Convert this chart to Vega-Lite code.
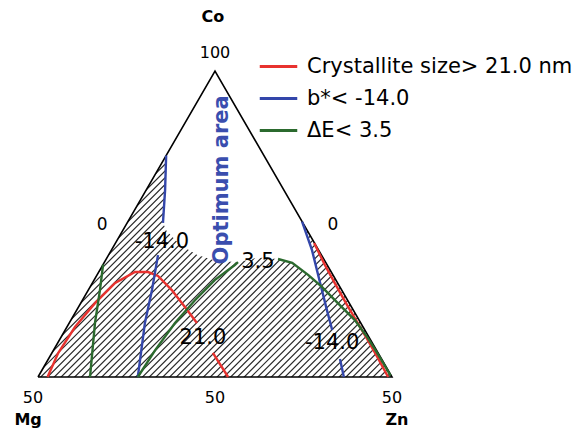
{
  "$schema": "https://vega.github.io/schema/vega-lite/v6.json",
  "width": 354,
  "height": 306,
  "autosize": "none",
  "padding": {"left": 38, "top": 71, "right": 184, "bottom": 58},
  "background": "white",
  "config": {
    "view": {"stroke": null},
    "font": "DejaVu Sans",
    "legend": {
      "orient": "none",
      "legendX": 224,
      "legendY": -21,
      "padding": 0,
      "title": null,
      "labelFont": "DejaVu Sans",
      "labelFontSize": 21,
      "labelColor": "black",
      "labelLimit": 400,
      "labelOffset": 12,
      "symbolType": "M-1.25,0H1.25",
      "symbolSize": 900,
      "symbolStrokeWidth": 3,
      "rowPadding": 5
    }
  },
  "datasets": {
    "outline": [
      {"i": 0, "x": 0, "y": 0},
      {"i": 1, "x": 50, "y": 86.6},
      {"i": 2, "x": 100, "y": 0},
      {"i": 3, "x": 0, "y": 0}
    ],
    "optimum": [
      {"x": 35.3, "top": 43.6, "bot": 43.6},
      {"x": 35.9, "top": 52.9, "bot": 42.3},
      {"x": 36.2, "top": 62.7, "bot": 41.5},
      {"x": 40, "top": 69.3, "bot": 37.5},
      {"x": 45, "top": 77.9, "bot": 34.5},
      {"x": 50, "top": 86.6, "bot": 33.0},
      {"x": 56.5, "top": 75.3, "bot": 32.5},
      {"x": 62, "top": 65.8, "bot": 33.8},
      {"x": 67.8, "top": 55.8, "bot": 33.4},
      {"x": 71.8, "top": 48.8, "bot": 32.3},
      {"x": 74.6, "top": 44.0, "bot": 30.3},
      {"x": 76.3, "top": 39.1, "bot": 28.9},
      {"x": 77.4, "top": 35.9, "bot": 28.1},
      {"x": 79.8, "top": 26.2, "bot": 26.2}
    ],
    "contours": [
      {"s": "Crystallite size> 21.0 nm", "g": "r1", "i": 0, "x": 2.7, "y": 0},
      {"s": "Crystallite size> 21.0 nm", "g": "r1", "i": 1, "x": 5.7, "y": 6.8},
      {"s": "Crystallite size> 21.0 nm", "g": "r1", "i": 2, "x": 10.5, "y": 14.2},
      {"s": "Crystallite size> 21.0 nm", "g": "r1", "i": 3, "x": 16.1, "y": 20.9},
      {"s": "Crystallite size> 21.0 nm", "g": "r1", "i": 4, "x": 21.8, "y": 26.6},
      {"s": "Crystallite size> 21.0 nm", "g": "r1", "i": 5, "x": 27.4, "y": 29.7},
      {"s": "Crystallite size> 21.0 nm", "g": "r1", "i": 6, "x": 31.1, "y": 29.7},
      {"s": "Crystallite size> 21.0 nm", "g": "r1", "i": 7, "x": 33.9, "y": 28.6},
      {"s": "Crystallite size> 21.0 nm", "g": "r1", "i": 8, "x": 37.8, "y": 24.6},
      {"s": "Crystallite size> 21.0 nm", "g": "r1", "i": 9, "x": 41.5, "y": 19.8},
      {"s": "Crystallite size> 21.0 nm", "g": "r1", "i": 10, "x": 44.9, "y": 15.3},
      {"s": "Crystallite size> 21.0 nm", "g": "r2", "i": 0, "x": 49.4, "y": 6.8},
      {"s": "Crystallite size> 21.0 nm", "g": "r2", "i": 1, "x": 53.7, "y": 0},
      {"s": "Crystallite size> 21.0 nm", "g": "r3", "i": 0, "x": 78.0, "y": 37.9},
      {"s": "Crystallite size> 21.0 nm", "g": "r3", "i": 1, "x": 81, "y": 31.8},
      {"s": "Crystallite size> 21.0 nm", "g": "r3", "i": 2, "x": 84, "y": 26.3},
      {"s": "Crystallite size> 21.0 nm", "g": "r3", "i": 3, "x": 87, "y": 20.9},
      {"s": "Crystallite size> 21.0 nm", "g": "r3", "i": 4, "x": 90, "y": 15.8},
      {"s": "Crystallite size> 21.0 nm", "g": "r3", "i": 5, "x": 93, "y": 10.7},
      {"s": "Crystallite size> 21.0 nm", "g": "r3", "i": 6, "x": 96, "y": 5.4},
      {"s": "Crystallite size> 21.0 nm", "g": "r3", "i": 7, "x": 98.9, "y": 0},
      {"s": "b*< -14.0", "g": "b1", "i": 0, "x": 36.2, "y": 62.7},
      {"s": "b*< -14.0", "g": "b1", "i": 1, "x": 35.9, "y": 52.9},
      {"s": "b*< -14.0", "g": "b1", "i": 2, "x": 35.3, "y": 43.6},
      {"s": "b*< -14.0", "g": "b2", "i": 0, "x": 33.9, "y": 34.5},
      {"s": "b*< -14.0", "g": "b2", "i": 1, "x": 32.2, "y": 24.6},
      {"s": "b*< -14.0", "g": "b2", "i": 2, "x": 30.2, "y": 15.3},
      {"s": "b*< -14.0", "g": "b2", "i": 3, "x": 28.2, "y": 0},
      {"s": "b*< -14.0", "g": "b3", "i": 0, "x": 74.6, "y": 44.0},
      {"s": "b*< -14.0", "g": "b3", "i": 1, "x": 77.4, "y": 35.9},
      {"s": "b*< -14.0", "g": "b3", "i": 2, "x": 79.7, "y": 26.6},
      {"s": "b*< -14.0", "g": "b3", "i": 3, "x": 81.6, "y": 19.0},
      {"s": "b*< -14.0", "g": "b3", "i": 4, "x": 83.1, "y": 13.3},
      {"s": "b*< -14.0", "g": "b4", "i": 0, "x": 85.3, "y": 5.1},
      {"s": "b*< -14.0", "g": "b4", "i": 1, "x": 86.4, "y": 0},
      {"s": "ΔE< 3.5", "g": "e1", "i": 0, "x": 14.7, "y": 0},
      {"s": "ΔE< 3.5", "g": "e1", "i": 1, "x": 16.1, "y": 15.3},
      {"s": "ΔE< 3.5", "g": "e1", "i": 2, "x": 17.5, "y": 24.6},
      {"s": "ΔE< 3.5", "g": "e1", "i": 3, "x": 18.4, "y": 31.9},
      {"s": "ΔE< 3.5", "g": "e2", "i": 0, "x": 28.2, "y": 0},
      {"s": "ΔE< 3.5", "g": "e2", "i": 1, "x": 33.1, "y": 7.6},
      {"s": "ΔE< 3.5", "g": "e2", "i": 2, "x": 38.7, "y": 15.3},
      {"s": "ΔE< 3.5", "g": "e2", "i": 3, "x": 44.4, "y": 21.8},
      {"s": "ΔE< 3.5", "g": "e2", "i": 4, "x": 50.0, "y": 27.5},
      {"s": "ΔE< 3.5", "g": "e2", "i": 5, "x": 55.6, "y": 31.7},
      {"s": "ΔE< 3.5", "g": "e2", "i": 6, "x": 56.5, "y": 32.5},
      {"s": "ΔE< 3.5", "g": "e3", "i": 0, "x": 67.8, "y": 33.4},
      {"s": "ΔE< 3.5", "g": "e3", "i": 1, "x": 71.8, "y": 32.3},
      {"s": "ΔE< 3.5", "g": "e3", "i": 2, "x": 76.3, "y": 28.9},
      {"s": "ΔE< 3.5", "g": "e3", "i": 3, "x": 80.2, "y": 25.5},
      {"s": "ΔE< 3.5", "g": "e3", "i": 4, "x": 84.7, "y": 20.9},
      {"s": "ΔE< 3.5", "g": "e3", "i": 5, "x": 89.5, "y": 16.1},
      {"s": "ΔE< 3.5", "g": "e3", "i": 6, "x": 93.2, "y": 11.0},
      {"s": "ΔE< 3.5", "g": "e3", "i": 7, "x": 95.5, "y": 7.3},
      {"s": "ΔE< 3.5", "g": "e3", "i": 8, "x": 97.5, "y": 4.0},
      {"s": "ΔE< 3.5", "g": "e3", "i": 9, "x": 99.6, "y": 0.4}
    ],
    "levelLabels": [
      {"label": "-14.0", "x": 35.0, "y": 38.2},
      {"label": "-14.0", "x": 83.1, "y": 9.6},
      {"label": "3.5", "x": 62.1, "y": 32.5},
      {"label": "21.0", "x": 46.6, "y": 11.0}
    ],
    "zeroLabels": [
      {"label": "0", "x": 18.1, "y": 43.0},
      {"label": "0", "x": 83.3, "y": 43.0}
    ],
    "tickLabels": [
      {"label": "100", "x": 50, "y": 91.7},
      {"label": "50", "x": -1.4, "y": -5.9},
      {"label": "50", "x": 50, "y": -5.9},
      {"label": "50", "x": 100, "y": -5.9}
    ],
    "corners": [
      {"label": "Co", "x": 49.4, "y": 101.9},
      {"label": "Mg", "x": -2.8, "y": -12.2},
      {"label": "Zn", "x": 101.4, "y": -12.2}
    ]
  },
  "encoding": {
    "x": {"field": "x", "type": "quantitative", "scale": {"domain": [0, 100], "nice": false, "zero": false}, "axis": null},
    "y": {"field": "y", "type": "quantitative", "scale": {"domain": [0, 86.6], "nice": false, "zero": false}, "axis": null}
  },
  "layer": [
    {
      "description": "diagonal hatching: one very wide dashed rule, clipped to the plot",
      "data": {"values": [{"x": -40, "y": 126.6, "x2": 140, "y2": -53.4}]},
      "mark": {"type": "rule", "clip": true, "strokeWidth": 900, "strokeDash": [1.2, 3.6], "strokeCap": "butt", "color": "#2a2a2a"},
      "encoding": {
        "x2": {"field": "x2"},
        "y2": {"field": "y2"}
      }
    },
    {
      "description": "blank out everything outside the triangle",
      "data": {"name": "outline"},
      "mark": {"type": "area", "fill": "white", "clip": true},
      "encoding": {
        "y2": {"datum": 86.6}
      }
    },
    {
      "description": "the un-hatched optimum region",
      "data": {"name": "optimum"},
      "mark": {"type": "area", "fill": "white"},
      "encoding": {
        "y": {"field": "top", "type": "quantitative"},
        "y2": {"field": "bot"}
      }
    },
    {
      "data": {"name": "outline"},
      "mark": {"type": "line", "color": "black", "strokeWidth": 1.6, "strokeJoin": "miter"},
      "encoding": {"order": {"field": "i"}}
    },
    {
      "data": {"name": "contours"},
      "mark": {"type": "line", "strokeWidth": 2.4},
      "encoding": {
        "color": {
          "field": "s",
          "type": "nominal",
          "scale": {
            "domain": ["Crystallite size> 21.0 nm", "b*< -14.0", "ΔE< 3.5"],
            "range": ["#e8322f", "#3346aa", "#2b6a2e"]
          }
        },
        "detail": {"field": "g"},
        "order": {"field": "i"}
      }
    },
    {
      "data": {"name": "levelLabels"},
      "mark": {"type": "text", "fontSize": 21, "align": "center", "baseline": "middle", "color": "black"},
      "encoding": {"text": {"field": "label"}}
    },
    {
      "data": {"name": "zeroLabels"},
      "mark": {"type": "text", "fontSize": 17, "align": "center", "baseline": "middle", "color": "black"},
      "encoding": {"text": {"field": "label"}}
    },
    {
      "data": {"name": "tickLabels"},
      "mark": {"type": "text", "fontSize": 16, "align": "center", "baseline": "middle", "color": "black"},
      "encoding": {"text": {"field": "label"}}
    },
    {
      "data": {"name": "corners"},
      "mark": {"type": "text", "fontSize": 16, "fontWeight": "bold", "align": "center", "baseline": "middle", "color": "black"},
      "encoding": {"text": {"field": "label"}}
    },
    {
      "data": {"values": [{"label": "Optimum area", "x": 52.0, "y": 55.8}]},
      "mark": {"type": "text", "fontSize": 21, "fontWeight": "bold", "angle": 270, "align": "center", "baseline": "middle", "color": "#3a4eae"},
      "encoding": {"text": {"field": "label"}}
    }
  ]
}
